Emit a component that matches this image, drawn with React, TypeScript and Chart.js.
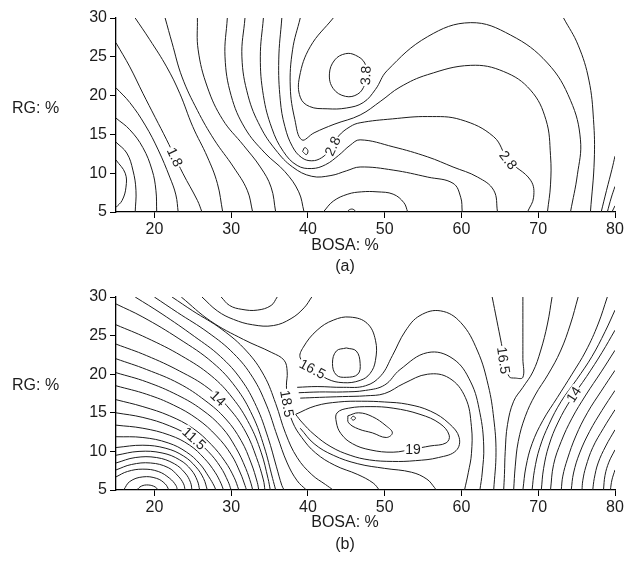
import React, { useEffect, useRef } from 'react';
import { Chart, registerables } from 'chart.js';

Chart.register(...registerables);

// ---------- axes ----------
const xTicks = [20, 30, 40, 50, 60, 70, 80];
const yTicks = [5, 10, 15, 20, 25, 30];
const xRange = [15, 80];
const yRange = [5, 30];

// ---------- panel (a) contour lines: [BOSA %, RG %] ----------
const contoursA_left = [
  [[15,11.7],[16.2,10],[16.3,8.2],[15.8,6.5],[15,5.6]],
  [[15,14],[16.4,12.6],[17.2,10.4],[17.6,7.8],[17.5,5]],
  [[15,17.1],[16.8,15.6],[18.5,13.3],[19.7,10.4],[20.2,7.8],[20.3,5]],
  [[15,21],[16.8,19.1],[18.8,16.2],[20.5,13],[22,9.5],[22.8,7.2],[23.1,5]],
  [[15,26.8],[16.8,23.7],[18.5,20.3],[20.1,17.2],[21.6,14.3],[23.7,10],[25.6,6.5],[26.2,5]],
  [[17.5,30],[19.4,27.2],[21.6,23.7],[23.3,20.3],[25,16],[26.9,12.1],[28.2,8.7],[28.9,5]],
  [[21.4,30],[22.3,26.8],[23.6,22.4],[25.6,18.1],[27.8,14.3],[30.3,10.8],[32.1,7.8],[32.8,5]],
  [[25.6,30],[25.7,25.9],[26.9,21.1],[28.9,16.9],[31.6,13.6],[33.8,10.8],[35.2,8.2],[35.8,5]],
  [[29.5,30],[29.2,25],[30,20],[31.8,15.8],[34.4,12.6],[37,10.2],[38.8,7.6],[39.5,5]],
];

const contoursA_saddle = [
  [[31.8,30],[31.4,25],[32.2,20],[33.8,16],[35.8,13],[38,10.8],[40.5,9.6],[43,9.7],[45,10.3],[46.8,10.8],[51.1,10.4],[55.6,9.5],[58.9,8.7],[59.9,6.9],[60.1,5]],
  [[34.2,30],[33.8,25],[34.2,20],[35.3,15.8],[36.8,12.8],[38.6,11],[40.5,10.6],[42.3,11.1],[44,12.3],[45.5,13.6],[46.8,14.3],[51.1,13.4],[55.6,12.1],[58.9,10.8],[62.1,9.5],[64.2,7.8],[64.7,5]],
  [[36.6,30],[36.2,24.6],[36.4,19.4],[37,16],[38,13.4],[39.2,12],[40.5,11.6],[41.8,12],[42.8,13],[44,14.8],[45.5,16],[46.8,16.5],[51,17],[55.6,17.3],[59.9,16.9],[64.2,14.7],[66.1,11.7],[69,9.1],[69.4,6.9],[68.6,5]],
  [[39,30],[38,25.9],[37.7,21.1],[38.3,16.9],[39.2,14.3],[40.8,15.2],[43.4,16.3],[46.8,17.5],[49.5,19.3],[52,21.1],[55.6,22.7],[61.2,23.9],[65.5,23.1],[69,20.7],[71,16.9],[71.6,12.3],[71.6,8.5],[71.2,5]],
  [[43.3,30],[40.3,26.3],[38.9,22.4],[39,19.8],[40.2,18.6],[42.5,18.3],[45,18.4],[47.2,19.1],[48.8,20.8],[50.3,23.2],[55.6,27.6],[61.2,29.4],[66.4,27.8],[71.2,24.2],[74.2,19.4],[75.5,14.3],[75.1,9.8],[74.2,5]],
  [[42,5],[43.3,6.4],[45.2,7.3],[47,7.6],[49,7.6],[51.1,7.3],[52.5,6.2],[53,5]],
  [[45.1,5],[45.4,5.3],[45.9,5.35],[46.3,5]],
  [[39.3,12.8],[39.6,13.3],[40,12.9],[39.8,12.4],[39.3,12.8]],
  [[47.6,22.6],[47.4,24.2],[46.2,25.2],[44.9,25.4],[43.5,24.6],[42.8,22.8],[43.3,20.9],[44.9,19.9],[46.5,20.2],[47.4,21.4],[47.6,22.6]],
];

const contoursA_right = [
  [[73.3,30],[75.2,26.5],[76.6,22],[77.2,16.9],[77.3,11.7],[76.8,5]],
  [[78.2,5],[78.9,7.8],[79.6,10.5],[80,12.2]],
  [[79,5],[79.5,6.8],[80,8.3]],
  [[79.6,5],[80,5.8]],
];

const labelsA = [
  { t: '1.8', x: 22.7, y: 12.1, r: 65 },
  { t: '3.8', x: 47.5, y: 22.6, r: -88 },
  { t: '2.8', x: 43.2, y: 13.5, r: -65 },
  { t: '2.8', x: 66.1, y: 11.7, r: 52 },
];

// ---------- panel (b) contour lines ----------
const contoursB_min = [
  [[17.7,5],[18.3,5.5],[19.2,5.65],[20.1,5.4],[20.5,5]],
  [[16,5],[16.8,6.1],[18.5,6.7],[20.3,6.5],[21.4,5.8],[21.9,5]],
  [[15,6.7],[16.5,7.4],[18.5,7.7],[20.5,7.4],[22,6.5],[22.8,5.6],[23,5]],
  [[15,7.6],[17,8.3],[19.5,8.5],[21.8,7.9],[23.1,6.8],[23.8,5.8],[24,5]],
  [[15,8.5],[17.5,9.2],[20.3,9.2],[22.6,8.4],[24,7.2],[24.7,6],[24.9,5]],
  [[15,9.5],[18,10],[21,9.8],[23.3,8.9],[24.8,7.6],[25.6,6.2],[25.9,5]],
];

const contoursB_left = [
  [[15,10.5],[18.5,10.8],[21.5,10.4],[23.8,9.4],[25.4,8],[26.4,6.5],[26.9,5]],
  [[15,11.9],[18.5,11.8],[21.8,11.1],[24.2,9.9],[25.9,8.4],[27.1,6.7],[27.8,5.5],[28,5]],
  [[15,13.4],[18.5,13],[22,12.1],[24.6,10.8],[26.5,9.1],[27.9,7.3],[28.7,5.8],[29,5]],
  [[15,15],[18.5,14.4],[22,13.3],[24.9,11.8],[27,10],[28.6,8],[29.6,6.1],[30,5]],
  [[15,16.7],[18.5,15.8],[22,14.6],[25,13],[27.4,10.9],[29.2,8.7],[30.4,6.6],[31,5]],
  [[15,18.5],[19,17.4],[22.5,16],[25.6,14.2],[28.1,12],[30,9.6],[31.2,7.2],[31.8,5.6],[32,5]],
  [[15,20.2],[19,19],[23,17.3],[26.2,15.4],[28.8,13.1],[30.6,10.5],[31.9,7.8],[32.6,5.8],[32.8,5]],
  [[15,22],[19,20.6],[23.2,18.8],[26.6,16.6],[29.3,14.2],[31.3,11.4],[32.6,8.5],[33.4,6],[33.6,5]],
  [[15,23.9],[19,22.4],[23.3,20.4],[27,18.2],[29.8,15.5],[31.9,12.5],[33.3,9.2],[34.2,6.3],[34.4,5]],
  [[15,26.4],[19,24.7],[23.5,22.4],[27.4,19.8],[30.2,16.9],[32.4,13.5],[33.9,9.9],[34.8,6.5],[35.1,5]],
  [[15,29.1],[18.5,27.4],[23.2,24.6],[27.6,21.5],[30.6,18.3],[32.8,14.6],[34.3,10.6],[35.4,6.5],[35.8,5]],
];

const contoursB_top = [
  [[17.5,30],[21,27.8],[25.2,24.9],[28.6,22.3],[31.3,19.3],[33.3,15.8],[34.8,11.8],[35.9,8],[36.6,5.6],[36.9,5]],
  [[20,30],[23,28],[27,25.4],[30.3,22.7],[32.8,19.6],[34.6,16],[36,12],[37.3,8.5],[38.6,6.2],[39.8,5]],
  [[22.3,30],[25,28.2],[28.8,25.8],[32,23],[34.3,19.8],[35.8,16.2],[37.1,12.3],[38.6,9.2],[40.5,7],[42.3,5.7],[43.3,5]],
  [[23.5,30],[27.3,26.9],[31.6,24.5],[35.3,22.8],[36.9,21.8],[37.3,20.3],[37.2,18.5],[37.4,16],[38,13.8],[39.2,11.8],[41,9.8],[43.5,8.2],[46.5,7],[48.5,5.9],[49.3,5]],
  [[26.2,30],[28.2,28.2],[30.3,27.1],[32.8,26.4],[35.5,26.3],[37.8,27.2],[39.5,28.6],[40.5,30]],
  [[28.7,30],[29.8,28.9],[31.4,28.4],[33.4,28.3],[35.2,28.9],[36,30]],
];

const contoursB_center = [
  [[40.4,20.8],[39,22.1],[39.4,23.5],[41.2,25.7],[43.3,27],[45.5,27.4],[47.7,26.6],[48.8,24.4],[48.8,21.8],[48.1,20.1],[46.8,19.2],[44.6,18.9],[42.5,19.4],[40.4,20.8]],
  [[45,23.4],[46.3,23],[46.8,21.4],[46.5,20],[45,19.6],[43.7,19.9],[43.2,21.4],[43.7,23],[45,23.4]],
  [[38.6,18.3],[41.2,18.4],[44.6,18.3],[47.5,18.5],[49.5,19.8],[51,22.4],[52.7,25.6],[54.6,27.6],[57.3,28.2],[59.9,26.7],[62.1,23],[63.5,18.5],[64.2,14.3],[64.5,9.9],[64.2,5]],
  [[38.8,17.6],[41.5,17.7],[44.5,17.7],[47.5,17.9],[50,18.6],[52,20.6],[55.6,22.8],[58.9,22],[61.2,19],[62.4,15],[62.9,10.7],[62.7,7.2],[62.4,5]],
  [[39,16.9],[41.5,17],[44.5,17.1],[47.5,17.2],[50,17.5],[52.5,18.8],[55.6,20],[58.4,19.5],[60.5,17],[61.3,13.2],[61.3,9.7],[60.9,7.3],[60.4,5]],
  [[38.4,14.8],[41,15.9],[44,16.4],[47,16.5],[50,16.4],[53,16.1],[56,15.2],[58.4,13.6],[59.7,11.8],[59.3,10.1],[57,9.2],[54,8.8],[51,8.7],[48,8.9],[45.5,9.5],[43,10.6],[40.8,12.2],[39.2,13.8],[38.4,14.8]],
  [[53.7,10.3],[51.1,9.9],[48.1,10.2],[45.8,11],[44.3,12.3],[43.7,13.8],[43.8,15],[45.3,15.6],[48.1,15.8],[51.1,15.6],[54.6,14.8],[57.2,13.6],[58.4,12.1],[58,11.1],[55.9,10.7],[53.7,10.3]],
  [[45.2,14.6],[46.6,15],[48.4,14.5],[50.2,13.3],[51,12.4],[50.2,11.8],[48.4,12.4],[46.6,12.9],[45.3,13.7],[45.2,14.6]],
  [[45.6,14.3],[45.9,14.55],[46.2,14.3],[45.9,14.05],[45.6,14.3]],
  [[39,13],[40.8,11],[43.3,9.5],[46.5,8.4],[50,7.8],[53.5,7.3],[55.5,6.4],[56.5,5.3],[56.7,5]],
];

const contoursB_right = [
  [[64,30],[64.6,27],[65.2,24],[65.7,21.5],[66.2,19.7],[67,19.5],[68,19.6],[68,22],[68,26],[68,30]],
  [[71.8,30],[71.2,26.5],[70.3,23],[69.3,20.3],[68,18.3],[66.8,16.5],[66,13.5],[65.7,10],[65.6,7],[65.5,5]],
  [[75.2,30],[74.2,26.5],[72.9,23],[71.3,20],[69.6,17.3],[68.3,14.5],[67.4,11.3],[67,8],[66.8,5]],
  [[79,30],[77.8,26.5],[76.2,23],[74.4,20],[72.5,17],[70.6,14],[69.2,11],[68.4,8],[68,5]],
  [[80,28.3],[78.7,25.5],[77,22.3],[75,19.3],[73,16.5],[71.4,13.5],[70.2,10.5],[69.5,7.5],[69.2,5]],
  [[80,25.7],[78.3,22.8],[76.3,19.7],[74.3,16.8],[72.6,13.8],[71.4,10.8],[70.7,7.8],[70.4,5]],
  [[80,23.1],[78.2,20.3],[76.2,17.3],[74.4,14.3],[73,11.3],[72,8.3],[71.6,5]],
  [[80,20.5],[78.2,17.8],[76.4,15],[74.9,12],[73.8,9],[73.2,6.8],[73,5]],
  [[80,17.9],[78.3,15.3],[76.7,12.6],[75.4,9.8],[74.6,7.2],[74.3,5]],
  [[80,15.4],[78.5,13],[77.1,10.5],[76.2,8],[75.8,6.2],[75.7,5]],
  [[80,12.8],[78.8,10.7],[77.8,8.5],[77.3,6.5],[77.1,5]],
  [[80,10.2],[79.2,8.6],[78.7,6.9],[78.5,5]],
  [[80,7.6],[79.6,6.3],[79.4,5]],
];

const labelsB = [
  { t: '11.5', x: 25.2, y: 11.7, r: 42 },
  { t: '14', x: 28.3, y: 16.9, r: 44 },
  { t: '18.5', x: 37.3, y: 16.2, r: 80 },
  { t: '16.5', x: 40.6, y: 20.7, r: 28 },
  { t: '19', x: 53.7, y: 10.3, r: 0 },
  { t: '16.5', x: 65.5, y: 21.8, r: 82 },
  { t: '14', x: 74.6, y: 17.4, r: -57 },
];

// ---------- drawing ----------
const FONT = '"Liberation Sans", Arial, Helvetica, sans-serif';
const INK = '#1c1c1c';

const contourLabelPlugin = {
  id: 'contourLabels',
  afterDatasetsDraw(chart: any, _args: any, opts: any) {
    const { ctx, scales } = chart;
    (opts.items || []).forEach((l: any) => {
      const px = scales.x.getPixelForValue(l.x);
      const py = scales.y.getPixelForValue(l.y);
      ctx.save();
      ctx.translate(px, py);
      ctx.rotate((l.r * Math.PI) / 180);
      ctx.font = `14px ${FONT}`;
      const w = ctx.measureText(l.t).width;
      ctx.fillStyle = '#fff';
      ctx.fillRect(-w / 2 - 1, -6, w + 2, 12);
      ctx.fillStyle = INK;
      ctx.textAlign = 'center';
      ctx.textBaseline = 'middle';
      ctx.fillText(l.t, 0, 1);
      ctx.restore();
    });
  },
};

const panelTextPlugin = {
  id: 'panelTexts',
  afterDraw(chart: any, _args: any, opts: any) {
    const { ctx } = chart;
    (opts.items || []).forEach((t: any) => {
      ctx.save();
      ctx.font = `16px ${FONT}`;
      ctx.fillStyle = INK;
      ctx.textAlign = t.align || 'center';
      ctx.textBaseline = 'middle';
      ctx.fillText(t.text, t.x, t.y);
      ctx.restore();
    });
  },
};

function toDatasets(lines: number[][][]) {
  return lines.map((pts) => ({
    data: pts.map(([x, y]) => ({ x, y })),
    showLine: true,
    borderColor: INK,
    borderWidth: 1,
    pointRadius: 0,
    pointHoverRadius: 0,
    tension: 0.4,
    fill: false,
  }));
}

type PanelProps = {
  lines: number[][][];
  labels: any[];
  height: number;
  padTop: number;
  areaBottom: number;
  texts: any[];
};

function Panel({ lines, labels, height, padTop, areaBottom, texts }: PanelProps) {
  const ref = useRef<HTMLCanvasElement | null>(null);
  useEffect(() => {
    if (!ref.current) return;
    const tickFont = { family: FONT, size: 16 };
    const chart = new Chart(ref.current, {
      type: 'scatter',
      data: { datasets: toDatasets(lines) as any },
      options: {
        animation: false,
        responsive: false,
        devicePixelRatio: 1,
        events: [],
        layout: { padding: { top: padTop, right: 18, left: 0, bottom: 0 } },
        plugins: {
          legend: { display: false },
          tooltip: { enabled: false },
          contourLabels: { items: labels },
          panelTexts: { items: texts },
        } as any,
        scales: {
          x: {
            type: 'linear',
            min: xRange[0],
            max: xRange[1],
            afterBuildTicks: (s: any) => {
              s.ticks = xTicks.map((v) => ({ value: v }));
            },
            afterFit: (s: any) => {
              s.height = height - areaBottom;
            },
            ticks: { font: tickFont, color: INK, padding: 2, maxRotation: 0 },
            grid: { drawOnChartArea: false, drawTicks: true, tickLength: 6, color: '#000', lineWidth: 1 },
            border: { display: true, color: '#000', width: 1.3 },
          },
          y: {
            type: 'linear',
            min: yRange[0],
            max: yRange[1],
            afterBuildTicks: (s: any) => {
              s.ticks = yTicks.map((v) => ({ value: v }));
            },
            afterFit: (s: any) => {
              s.width = 116;
            },
            ticks: { font: tickFont, color: INK, padding: 3 },
            grid: { drawOnChartArea: false, drawTicks: true, tickLength: 6, color: '#000', lineWidth: 1 },
            border: { display: true, color: '#000', width: 1.3 },
          },
        },
      },
      plugins: [contourLabelPlugin, panelTextPlugin],
    });
    return () => chart.destroy();
  }, []);
  return <canvas ref={ref} width={633} height={height} style={{ display: 'block', width: 633, height }} />;
}

export default function App() {
  return (
    <div style={{ position: 'absolute', left: 0, top: 0, width: 633, height: 566, background: '#fff' }}>
      <Panel
        lines={[...contoursA_left, ...contoursA_saddle, ...contoursA_right]}
        labels={labelsA}
        height={283}
        padTop={18}
        areaBottom={212}
        texts={[
          { text: 'RG: %', x: 12, y: 109, align: 'left' },
          { text: 'BOSA: %', x: 345, y: 246 },
          { text: '(a)', x: 345, y: 267 },
        ]}
      />
      <Panel
        lines={[...contoursB_min, ...contoursB_left, ...contoursB_top, ...contoursB_center, ...contoursB_right]}
        labels={labelsB}
        height={283}
        padTop={14}
        areaBottom={207}
        texts={[
          { text: 'RG: %', x: 12, y: 103, align: 'left' },
          { text: 'BOSA: %', x: 345, y: 240 },
          { text: '(b)', x: 345, y: 262 },
        ]}
      />
    </div>
  );
}
